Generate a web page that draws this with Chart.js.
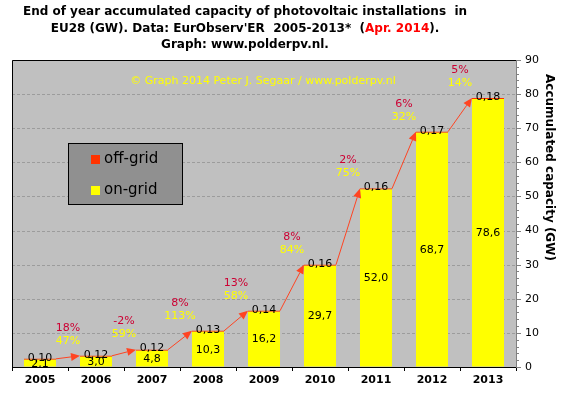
<!DOCTYPE html>
<html><head><meta charset="utf-8">
<script src="https://cdn.jsdelivr.net/npm/chart.js@4/dist/chart.umd.min.js"></script>
<style>html,body{margin:0;padding:0;background:#fff;}#wrap{width:561px;height:393px;}</style>
</head><body><div id="wrap"><canvas id="c" width="561" height="393"></canvas></div>
<script>
const years = ['2005','2006','2007','2008','2009','2010','2011','2012','2013'];
const onGrid = [2.1, 3.0, 4.8, 10.3, 16.2, 29.7, 52.0, 68.7, 78.6];
const offGrid = [0.10, 0.12, 0.12, 0.13, 0.14, 0.16, 0.16, 0.17, 0.18];
const offGridGrowth = ['18%','-2%','8%','13%','8%','2%','6%','5%'];
const onGridGrowth = ['47%','59%','113%','58%','84%','75%','32%','14%'];
const yTickLabels = [0,10,20,30,40,50,60,70,80,90];
const seriesNames = ['off-grid','on-grid'];
const titleLine1 = 'End of year accumulated capacity of photovoltaic installations  in';
const titleLine2a = "EU28 (GW). Data: EurObserv'ER  2005-2013*  (";
const titleLine2b = 'Apr. 2014';
const titleLine2c = ').';
const titleLine3 = 'Graph: www.polderpv.nl.';
const watermark = '\u00A9 Graph 2014 Peter J. Segaar / www.polderpv.nl';
const axisTitle = 'Accumulated capacity (GW)';

const FAM = '"DejaVu Sans", Verdana, sans-serif';
const C_YEL = '#FFFF00', C_RED = '#FF3300', C_ARROW = '#FF4422', C_PCT = '#CC0033';

function fitFont(ctx, text, target, weight, maxSize) {
  let s = maxSize;
  while (s > 6) {
    ctx.font = weight + ' ' + s + 'px ' + FAM;
    if (ctx.measureText(text).width <= target) break;
    s -= 0.25;
  }
  return ctx.font;
}
const fmt = (v, d) => v.toFixed(d).replace('.', ',');

const deco = {
  id: 'deco',
  beforeDraw(chart) {
    const {ctx, chartArea: a} = chart;
    const y = chart.scales.y;
    ctx.save();
    ctx.fillStyle = '#C0C0C0';
    ctx.fillRect(a.left, a.top, a.right - a.left, a.bottom - a.top);
    ctx.strokeStyle = '#9C9C9C';
    ctx.lineWidth = 1;
    ctx.setLineDash([3, 2]);
    yTickLabels.forEach(v => {
      if (v === 0 || v === 90) return;
      const py = Math.round(y.getPixelForValue(v)) + 0.5;
      ctx.beginPath(); ctx.moveTo(a.left, py); ctx.lineTo(a.right, py); ctx.stroke();
    });
    ctx.restore();
  },
  afterDatasetsDraw(chart) {
    const {ctx} = chart;
    const onM = chart.getDatasetMeta(0).data;
    const offM = chart.getDatasetMeta(1).data;
    ctx.save();
    // arrows
    ctx.strokeStyle = C_ARROW; ctx.fillStyle = C_ARROW; ctx.lineWidth = 1;
    for (let i = 0; i < offM.length - 1; i++) {
      const b1 = offM[i], b2 = offM[i + 1];
      const x1 = b1.x + b1.width / 2, y1 = b1.y;
      const x2 = b2.x - b2.width / 2, y2 = b2.y;
      const ang = Math.atan2(y2 - y1, x2 - x1);
      const L = 9, W = 4;
      const bx = x2 - L * Math.cos(ang), by = y2 - L * Math.sin(ang);
      ctx.beginPath(); ctx.moveTo(x1, y1); ctx.lineTo(bx, by); ctx.stroke();
      ctx.beginPath();
      ctx.moveTo(x2, y2);
      ctx.lineTo(bx + W * Math.sin(ang), by - W * Math.cos(ang));
      ctx.lineTo(bx - W * Math.sin(ang), by + W * Math.cos(ang));
      ctx.closePath(); ctx.fill();
    }
    // value labels
    ctx.font = '11px ' + FAM;
    ctx.textAlign = 'center'; ctx.textBaseline = 'middle';
    ctx.fillStyle = '#000';
    onM.forEach((b, i) => ctx.fillText(fmt(onGrid[i], 1), b.x, (b.y + b.base) / 2 + 0.5));
    offM.forEach((b, i) => ctx.fillText(fmt(offGrid[i], 2), b.x, b.y - 1));
    // growth labels
    for (let i = 0; i < onM.length - 1; i++) {
      const x = (onM[i].x + onM[i + 1].x) / 2;
      const yy = offM[i + 1].y - 15;
      ctx.fillStyle = C_YEL; ctx.fillText(onGridGrowth[i], x, yy);
      ctx.fillStyle = C_PCT; ctx.fillText(offGridGrowth[i], x, yy - 13);
    }
    ctx.restore();
  },
  afterDraw(chart) {
    const {ctx, chartArea: a} = chart;
    const y = chart.scales.y;
    ctx.save();
    // borders
    ctx.strokeStyle = '#000'; ctx.lineWidth = 1;
    ctx.beginPath();
    ctx.moveTo(a.left + 0.5, a.bottom); ctx.lineTo(a.left + 0.5, a.top + 0.5); ctx.lineTo(a.right, a.top + 0.5);
    ctx.stroke();
    // y ticks (major/minor)
    ctx.strokeStyle = '#808080';
    for (let v = 0; v <= 90; v += 2) {
      const py = Math.round(y.getPixelForValue(v)) + 0.5;
      ctx.beginPath(); ctx.moveTo(a.right, py); ctx.lineTo(a.right + (v % 10 === 0 ? 5 : 3), py); ctx.stroke();
    }
    // title
    ctx.fillStyle = '#000'; ctx.textBaseline = 'middle'; ctx.textAlign = 'left';
    fitFont(ctx, titleLine1, 448, 'bold', 13);
    const cx = 245;
    let w = ctx.measureText(titleLine1).width;
    ctx.fillText(titleLine1, cx - w / 2, 12);
    const wa = ctx.measureText(titleLine2a).width, wb = ctx.measureText(titleLine2b).width, wc = ctx.measureText(titleLine2c).width;
    let sx = cx - (wa + wb + wc) / 2;
    ctx.fillText(titleLine2a, sx, 28.5); sx += wa;
    ctx.fillStyle = '#FF0000'; ctx.fillText(titleLine2b, sx, 28.5); sx += wb;
    ctx.fillStyle = '#000'; ctx.fillText(titleLine2c, sx, 28.5);
    w = ctx.measureText(titleLine3).width;
    ctx.fillText(titleLine3, cx - w / 2, 45);
    // watermark
    fitFont(ctx, watermark, 268, 'normal', 12);
    ctx.fillStyle = C_YEL; ctx.textAlign = 'center';
    ctx.fillText(watermark, 263, 81);
    // axis title
    ctx.save();
    ctx.translate(549, 167.5); ctx.rotate(Math.PI / 2);
    fitFont(ctx, axisTitle, 209, 'bold', 12);
    ctx.fillStyle = '#000'; ctx.textAlign = 'center';
    ctx.fillText(axisTitle, 0, 0);
    ctx.restore();
    // legend
    ctx.fillStyle = '#909090'; ctx.fillRect(68, 143, 115, 62);
    ctx.strokeStyle = '#000'; ctx.strokeRect(68.5, 143.5, 114, 61);
    const cols = [C_RED, C_YEL];
    ctx.font = '15px ' + FAM; ctx.textAlign = 'left';
    seriesNames.forEach((n, i) => {
      const cy = 159.5 + i * 31;
      ctx.fillStyle = cols[i]; ctx.fillRect(91, cy - 4.5, 9, 9);
      ctx.fillStyle = '#000'; ctx.fillText(n, 104, cy);
    });
    ctx.restore();
  }
};

new Chart(document.getElementById('c'), {
  type: 'bar',
  data: {
    labels: years,
    datasets: [
      {label: seriesNames[1], data: onGrid, backgroundColor: C_YEL, barPercentage: 0.572, categoryPercentage: 1, borderWidth: 0},
      {label: seriesNames[0], data: offGrid, backgroundColor: C_RED, barPercentage: 0.572, categoryPercentage: 1, borderWidth: 0, minBarLength: 1}
    ]
  },
  options: {
    responsive: false, animation: false, devicePixelRatio: 1,
    layout: {padding: {left: 12, top: 60, right: 0, bottom: 0}},
    plugins: {legend: {display: false}, title: {display: false}, tooltip: {enabled: false}},
    scales: {
      x: {
        stacked: true, offset: true,
        grid: {offset: true, drawOnChartArea: false, tickLength: 4, tickColor: '#000', color: '#000'},
        border: {color: '#000', width: 1},
        ticks: {color: '#000', font: {family: FAM, size: 11, weight: 'bold'}, padding: 3, maxRotation: 0},
        afterFit: s => { s.height = 26; }
      },
      y: {
        stacked: true, position: 'right', min: 0, max: 90,
        grid: {drawOnChartArea: false, drawTicks: true, tickLength: 5, tickColor: 'rgba(0,0,0,0)'},
        border: {color: '#808080', width: 1},
        ticks: {stepSize: 2, autoSkip: false, padding: 4, color: '#000', font: {family: FAM, size: 11},
          callback: v => yTickLabels.includes(v) ? String(v) : ''},
        afterFit: s => { s.width = 45; }
      }
    }
  },
  plugins: [deco]
});
</script></body></html>
